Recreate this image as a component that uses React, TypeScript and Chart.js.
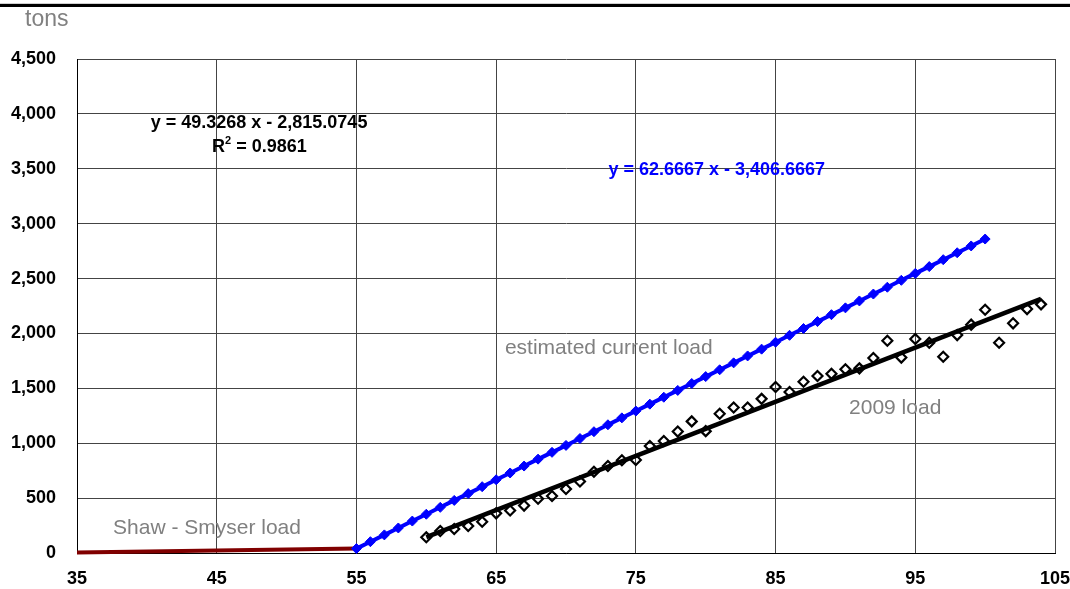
import React, { useEffect, useRef } from 'react';
import { Chart, registerables } from 'chart.js';

Chart.register(...registerables);

// Shaw - Smyser load (dark red)
const shawX = [35, 55];
const shawLoad = [5, 40];

// estimated current load (blue)
const currentX = [55, 56, 57, 58, 59, 60, 61, 62, 63, 64, 65, 66, 67, 68, 69, 70, 71, 72, 73, 74, 75, 76, 77, 78, 79, 80, 81, 82, 83, 84, 85, 86, 87, 88, 89, 90, 91, 92, 93, 94, 95, 96, 97, 98, 99, 100];
const currentLoad = [40, 103, 165, 228, 291, 353, 416, 479, 541, 604, 667, 729, 792, 855, 917, 980, 1043, 1105, 1168, 1231, 1293, 1356, 1419, 1481, 1544, 1607, 1669, 1732, 1795, 1857, 1920, 1983, 2045, 2108, 2171, 2233, 2296, 2359, 2421, 2484, 2547, 2609, 2672, 2735, 2797, 2860];

// 2009 load (open diamonds)
const loadX2009 = [60, 61, 62, 63, 64, 65, 66, 67, 68, 69, 70, 71, 72, 73, 74, 75, 76, 77, 78, 79, 80, 81, 82, 83, 84, 85, 86, 87, 88, 89, 90, 91, 92, 93, 94, 95, 96, 97, 98, 99, 100, 101, 102, 103, 104];
const load2009 = [143, 200, 218, 246, 285, 361, 387, 432, 494, 519, 583, 652, 740, 792, 845, 847, 975, 1020, 1106, 1199, 1110, 1268, 1326, 1326, 1404, 1512, 1466, 1560, 1612, 1632, 1673, 1682, 1776, 1934, 1780, 1949, 1915, 1788, 1985, 2080, 2216, 1915, 2092, 2222, 2265];

// linear trend of 2009 load
const trendX = [60, 104];
const trendLoad = [145, 2315];

const FONT = '"Liberation Sans", Arial, sans-serif';

function pts(xs: number[], ys: number[]) {
  return xs.map((x, i) => ({ x, y: ys[i] }));
}

const annotationPlugin = {
  id: 'annotations',
  afterDraw(chart: any) {
    const ctx = chart.ctx as CanvasRenderingContext2D;
    const xs = chart.scales.x;
    const ys = chart.scales.y;
    const px = (v: number) => xs.getPixelForValue(v);
    const py = (v: number) => ys.getPixelForValue(v);
    ctx.save();
    // top thick rule
    ctx.fillStyle = '#cfcfcf';
    ctx.fillRect(0, 3, chart.width, 1);
    ctx.fillStyle = '#000';
    ctx.fillRect(0, 4, chart.width, 3);

    ctx.textBaseline = 'middle';
    // gray labels
    ctx.fillStyle = '#808080';
    ctx.textAlign = 'left';
    ctx.font = `23px ${FONT}`;
    ctx.fillText('tons', 25, 20);
    ctx.font = `21px ${FONT}`;
    ctx.fillText('estimated current load', px(65.63), py(1867));
    ctx.fillText('2009 load', px(90.26), py(1321));
    ctx.fillText('Shaw - Smyser load', px(37.58), py(228));

    // equations
    ctx.font = `bold 18px ${FONT}`;
    ctx.textAlign = 'center';
    ctx.fillStyle = '#000';
    ctx.fillText('y = 49.3268 x - 2,815.0745', px(48.03), py(3917));
    // R^2 line
    const cx = px(48.06);
    const cy = py(3698);
    ctx.textAlign = 'left';
    const wR = ctx.measureText('R').width;
    const rest = ' = 0.9861';
    const wRest = ctx.measureText(rest).width;
    ctx.font = `bold 11px ${FONT}`;
    const w2 = ctx.measureText('2').width;
    const total = wR + w2 + wRest;
    const x0 = cx - total / 2;
    ctx.font = `bold 18px ${FONT}`;
    ctx.fillText('R', x0, cy);
    ctx.font = `bold 11px ${FONT}`;
    ctx.fillText('2', x0 + wR, cy - 6);
    ctx.font = `bold 18px ${FONT}`;
    ctx.fillText(rest, x0 + wR + w2, cy);

    ctx.textAlign = 'center';
    ctx.fillStyle = '#0000ff';
    ctx.fillText('y = 62.6667 x - 3,406.6667', px(80.79), py(3489));
    ctx.restore();
  },
};

export default function App() {
  const ref = useRef<HTMLCanvasElement | null>(null);
  useEffect(() => {
    document.body.style.margin = '0';
    if (!ref.current) return;
    const chart = new Chart(ref.current, {
      type: 'scatter',
      data: {
        datasets: [
          {
            label: '2009 load trend',
            data: pts(trendX, trendLoad),
            showLine: true,
            borderColor: '#000',
            borderWidth: 4.5,
            pointRadius: 0,
            clip: false,
            order: 1,
          } as any,
          {
            label: '2009 load',
            data: pts(loadX2009, load2009),
            showLine: false,
            pointStyle: 'rectRot',
            pointRadius: 5,
            borderColor: '#000',
            backgroundColor: 'rgba(255,255,255,0)',
            pointBorderWidth: 2.2,
            clip: false,
            order: 2,
          } as any,
          {
            label: 'Shaw - Smyser load',
            data: pts(shawX, shawLoad),
            showLine: true,
            borderColor: '#800000',
            borderWidth: 4,
            pointRadius: 0,
            clip: false,
            order: 4,
          } as any,
          {
            label: 'estimated current load',
            data: pts(currentX, currentLoad),
            showLine: true,
            borderColor: '#0000ff',
            borderWidth: 4,
            pointStyle: 'rectRot',
            pointRadius: 5,
            pointBackgroundColor: '#0000ff',
            pointBorderColor: '#0000ff',
            pointBorderWidth: 1,
            clip: false,
            order: 3,
          } as any,
        ],
      },
      options: {
        animation: false,
        responsive: true,
        maintainAspectRatio: false,
        layout: { padding: { top: 59, right: 15, left: 0, bottom: 0 } },
        plugins: {
          legend: { display: false },
          tooltip: { enabled: false },
        },
        scales: {
          x: {
            type: 'linear',
            min: 35,
            max: 105,
            afterFit: (s: any) => {
              s.height = 36;
              s.paddingLeft = 0;
              s.paddingRight = 0;
            },
            ticks: {
              stepSize: 10,
              padding: 15,
              color: '#000',
              font: { family: FONT, size: 18, weight: 'bold' },
            },
            grid: { color: '#444', lineWidth: 1, drawTicks: false },
            border: { display: true, color: '#000', width: 1 },
          },
          y: {
            type: 'linear',
            min: 0,
            max: 4500,
            afterFit: (s: any) => {
              s.width = 77;
              s.paddingTop = 0;
              s.paddingBottom = 0;
            },
            ticks: {
              stepSize: 500,
              padding: 21,
              color: '#000',
              font: { family: FONT, size: 18, weight: 'bold' },
              callback: (v: any) => Number(v).toLocaleString('en-US'),
            },
            grid: { color: '#444', lineWidth: 1, drawTicks: false },
            border: { display: true, color: '#000', width: 1 },
          },
        },
      } as any,
      plugins: [annotationPlugin],
    });
    return () => chart.destroy();
  }, []);
  return (
    <div style={{ position: 'fixed', left: 0, top: 0, width: 1070, height: 589, background: '#fff' }}>
      <canvas ref={ref} />
    </div>
  );
}
